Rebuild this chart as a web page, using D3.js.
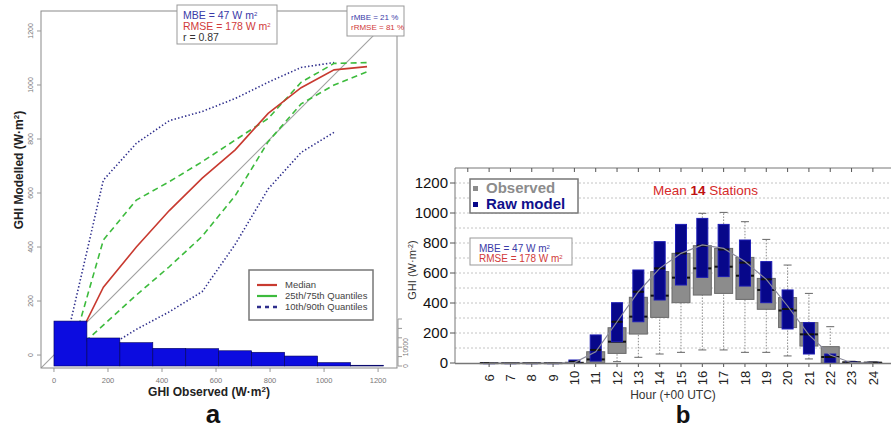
<!DOCTYPE html>
<html><head><meta charset="utf-8">
<script src="https://cdn.jsdelivr.net/npm/d3@7"></script>
<style>body{margin:0;background:#fff}svg{display:block}text{font-family:"Liberation Sans",Arial,sans-serif}</style>
</head><body><svg id="c" width="893" height="430"></svg>
<script>
// ---------- Panel a data ----------
const binCenters = [61,183,305,427,549,671,793,915,1037,1159];
const medianVals = [5,251,400,535,655,760,895,990,1056,1068];
const q75Vals = [0,426,574,642,716,796,876,1010,1080,1083];
const q25Vals = [0,111,222,327,440,590,790,930,1000,1049];
const q90Vals = [120,648,784,868,902,950,1010,1065,1083];
const q10Vals = [0,20,95,160,235,410,615,750,825];
const histEdges = [0,122,244,366,488,610,732,854,976,1098,1220];
const histCounts = [23900,14900,12400,9400,9200,8100,7300,5300,1800,400];
const axisTicksA = [0,200,400,600,800,1000,1200];
const histTicks = [0,5000,10000,15000,20000,25000];
const histTickLabels = ["0","","10000","","",""];
const legendA = ["Median","25th/75th Quantiles","10th/90th Quantiles"];

// ---------- Panel b data ----------
const hours = [6,7,8,9,10,11,12,13,14,15,16,17,18,19,20,21,22,23,24];
const obsLow  = [0,0,0,0,0,0,9,38,60,71,87,87,71,71,47,27,0,0,0];
const obsQ1   = [0,0,0,0,0,0,64,193,304,402,453,464,424,358,236,113,0,0,0];
const obsMed  = [0,0,0,0,0,24,142,309,449,569,631,642,582,487,350,191,40,3,2];
const obsQ3   = [2,2,2,2,5,75,235,438,609,731,782,764,704,564,436,269,109,8,4];
const obsHigh = [3,3,3,3,10,120,380,600,780,900,998,1004,942,824,653,464,242,12,6];
const modQ1   = [0,0,0,0,2,13,142,275,420,520,571,576,513,402,227,60,0,0,0];
const modMed  = [0,0,0,0,8,87,275,475,631,731,782,757,669,558,360,191,40,3,2];
const modQ3   = [2,2,2,2,20,187,402,620,809,924,964,924,820,676,487,269,60,8,4];
const meanLine = [0,0,0,0,3,75,275,475,631,731,787,764,676,558,380,187,53,2,0];
const yTicksB = [0,200,400,600,800,1000,1200];
const gridB = [100,200,300,400,500,600,700,800,900,1000,1100,1200];
const topTicksB = [5,6,7,8,9,10,11,12,13,14,15,16,17,18,19,20,21,22,23,24];

const svg = d3.select("#c");

// ================= PANEL A =================
const xA = d3.scaleLinear().domain([-48,1270]).range([41,397]);
const yA = d3.scaleLinear().domain([-48,1274]).range([368,11]);
const cA = d3.scaleLinear().domain([0,25000]).range([366,319]);

const defs = svg.append("defs");
defs.append("clipPath").attr("id","clipA")
  .append("rect").attr("x",41).attr("y",11).attr("width",356).attr("height",357);
defs.append("clipPath").attr("id","clipR").append("rect").attr("x",399).attr("y",0).attr("width",13).attr("height",430);

const gA = svg.append("g").attr("clip-path","url(#clipA)");
// 1:1 line
gA.append("line").attr("x1",xA(-48)).attr("y1",yA(-48)).attr("x2",xA(1300)).attr("y2",yA(1300))
  .attr("stroke","#a0a0a0").attr("stroke-width",1.1);

const lineA = (vals) => d3.line().x((d,i)=>xA(binCenters[i])).y(d=>yA(d))(vals);
const navy = "#2e2e8c", green = "#3dbb3d", red = "#c83a30";
[q90Vals,q10Vals].forEach(v => gA.append("path").attr("d",lineA(v)).attr("fill","none")
  .attr("stroke",navy).attr("stroke-width",1.6).attr("stroke-dasharray","1.4,2.2"));
[q75Vals,q25Vals].forEach(v => gA.append("path").attr("d",lineA(v)).attr("fill","none")
  .attr("stroke",green).attr("stroke-width",1.6).attr("stroke-dasharray","6,4"));
gA.append("path").attr("d",lineA(medianVals)).attr("fill","none").attr("stroke",red).attr("stroke-width",1.6);

// histogram
gA.selectAll("rect.h").data(histCounts).join("rect").attr("class","h")
  .attr("x",(d,i)=>xA(histEdges[i])).attr("width",(d,i)=>xA(histEdges[i+1])-xA(histEdges[i]))
  .attr("y",d=>cA(d)).attr("height",d=>cA(0)-cA(d))
  .attr("fill","#0c0ce0").attr("stroke","#00005a").attr("stroke-width",0.6);

// frame
svg.append("rect").attr("x",41).attr("y",11).attr("width",356).attr("height",357)
  .attr("fill","none").attr("stroke","#8a8a8a").attr("stroke-width",1);

// left axis
const lAx = svg.append("g");
axisTicksA.forEach(v=>{
  lAx.append("line").attr("x1",37).attr("x2",41).attr("y1",yA(v)).attr("y2",yA(v)).attr("stroke","#999");
  lAx.append("text").attr("transform",`translate(33,${yA(v)}) rotate(-90)`).attr("text-anchor","middle")
    .attr("font-size",7).attr("fill","#777").text(v);
});
// bottom axis
axisTicksA.forEach(v=>{
  lAx.append("line").attr("y1",368).attr("y2",372).attr("x1",xA(v)).attr("x2",xA(v)).attr("stroke","#999");
  lAx.append("text").attr("x",xA(v)).attr("y",383).attr("text-anchor","middle")
    .attr("font-size",7.5).attr("fill","#777").text(v);
});
// right histogram axis
svg.append("line").attr("x1",398).attr("x2",398).attr("y1",cA(0)).attr("y2",cA(25000)).attr("stroke","#999");
histTicks.forEach((v,i)=>{
  svg.append("line").attr("x1",398).attr("x2",402).attr("y1",cA(v)).attr("y2",cA(v)).attr("stroke","#999");
  if(histTickLabels[i]) svg.append("text").attr("transform",`translate(408,${cA(v)}) rotate(-90)`)
    .attr("text-anchor","middle").attr("font-size",6.5).attr("fill","#777").text(histTickLabels[i]);
});
// right label (partially clipped at the panel edge)
svg.append("text").attr("clip-path","url(#clipR)").attr("transform","translate(410,262) rotate(-90)").attr("text-anchor","middle")
  .attr("font-size",11).attr("font-weight","bold").attr("fill","#444")
  .html('GHI (W·m<tspan baseline-shift="super" font-size="7">-2</tspan>)');

// axis titles
svg.append("text").attr("transform","translate(23,170) rotate(-90)").attr("text-anchor","middle")
  .attr("font-size",12).attr("font-weight","bold").attr("fill","#222")
  .html('GHI Modelled (W·m<tspan baseline-shift="super" font-size="8">2</tspan>)');
svg.append("text").attr("x",209).attr("y",396).attr("text-anchor","middle")
  .attr("font-size",12).attr("font-weight","bold").attr("fill","#222")
  .html('GHI Observed (W·m<tspan baseline-shift="super" font-size="8">2</tspan>)');
svg.append("text").attr("x",213).attr("y",423).attr("text-anchor","middle")
  .attr("font-family","Liberation Serif").attr("font-size",26).attr("font-weight","bold").attr("fill","#111").text("a");

// legend a
svg.append("rect").attr("x",249).attr("y",270).attr("width",124).attr("height",50)
  .attr("fill","#fff").attr("stroke","#777").attr("stroke-width",1.5);
const lgStyles = [
  {c:red, d:null, w:2.2},
  {c:green, d:null, w:2.2},
  {c:navy, d:"4,4", w:2.5}];
legendA.forEach((t,i)=>{
  const y = 285 + i*11;
  const l = svg.append("line").attr("x1",257).attr("x2",277).attr("y1",y).attr("y2",y)
    .attr("stroke",lgStyles[i].c).attr("stroke-width",lgStyles[i].w);
  if(lgStyles[i].d) l.attr("stroke-dasharray",lgStyles[i].d);
  svg.append("text").attr("x",285).attr("y",y+3.3).attr("font-size",9.5).attr("fill","#444").text(t);
});

// annotation boxes a
svg.append("rect").attr("x",177).attr("y",5).attr("width",100).attr("height",39)
  .attr("fill","#fff").attr("stroke","#999");
svg.append("text").attr("x",183).attr("y",19).attr("font-size",10.5).attr("fill","#3a3aa8")
  .html('MBE = 47 W m<tspan baseline-shift="super" font-size="6">2</tspan>');
svg.append("text").attr("x",183).attr("y",30).attr("font-size",10.5).attr("fill","#d03a3a")
  .html('RMSE = 178 W m<tspan baseline-shift="super" font-size="6">2</tspan>');
svg.append("text").attr("x",183).attr("y",41).attr("font-size",10.5).attr("fill","#333").text("r = 0.87");
svg.append("rect").attr("x",347).attr("y",6).attr("width",57).attr("height",30)
  .attr("fill","#fff").attr("stroke","#999");
svg.append("text").attr("x",351).attr("y",20).attr("font-size",8).attr("fill","#3a3aa8").text("rMBE = 21 %");
svg.append("text").attr("x",351).attr("y",30).attr("font-size",8).attr("fill","#d03a3a").text("rRMSE = 81 %");

// ================= PANEL B =================
const xB = d3.scaleLinear().domain([4.4,24.85]).range([455,891]);
const yB = d3.scaleLinear().domain([0,1300]).range([363,168]);

// grid
gridB.forEach(v=> svg.append("line").attr("x1",455).attr("x2",891).attr("y1",yB(v)).attr("y2",yB(v))
  .attr("stroke","#c4c4c4").attr("stroke-dasharray","2,2"));
// frame
svg.append("line").attr("x1",455).attr("x2",455).attr("y1",168).attr("y2",363).attr("stroke","#777");
svg.append("line").attr("x1",455).attr("x2",891).attr("y1",168).attr("y2",168).attr("stroke","#777");
topTicksB.forEach(h=> svg.append("line").attr("x1",xB(h)).attr("x2",xB(h)).attr("y1",168).attr("y2",172).attr("stroke","#555"));

// y axis
yTicksB.forEach(v=>{
  svg.append("line").attr("x1",450).attr("x2",455).attr("y1",yB(v)).attr("y2",yB(v)).attr("stroke","#555");
  svg.append("text").attr("x",448).attr("y",yB(v)).attr("dy","0.36em").attr("text-anchor","end")
    .attr("font-size",15).attr("fill","#111").text(v);
});

const gw = 18, bw = 11, cw = 8;
// whiskers
hours.forEach((h,i)=>{
  const x = xB(h);
  svg.append("line").attr("x1",x).attr("x2",x).attr("y1",yB(obsLow[i])).attr("y2",yB(obsHigh[i]))
    .attr("stroke","#8a8a8a").attr("stroke-dasharray","1.5,1.5");
  [obsLow[i],obsHigh[i]].forEach(v=> svg.append("line").attr("x1",x-cw/2).attr("x2",x+cw/2)
    .attr("y1",yB(v)).attr("y2",yB(v)).attr("stroke","#666"));
});
// observed boxes
hours.forEach((h,i)=>{
  const x = xB(h);
  svg.append("rect").attr("x",x-gw/2).attr("width",gw).attr("y",yB(obsQ3[i])).attr("height",Math.max(1,yB(obsQ1[i])-yB(obsQ3[i])))
    .attr("fill","#8c8c8c").attr("stroke","#6a6a6a");
  svg.append("line").attr("x1",x-gw/2).attr("x2",x+gw/2).attr("y1",yB(obsMed[i])).attr("y2",yB(obsMed[i]))
    .attr("stroke","#111").attr("stroke-width",2);
});
// model boxes
hours.forEach((h,i)=>{
  const x = xB(h);
  svg.append("rect").attr("x",x-bw/2).attr("width",bw).attr("y",yB(modQ3[i])).attr("height",Math.max(1,yB(modQ1[i])-yB(modQ3[i])))
    .attr("fill","#07078a").attr("stroke","#1c1cb4");
  svg.append("line").attr("x1",x-bw/2).attr("x2",x+bw/2).attr("y1",yB(modMed[i])).attr("y2",yB(modMed[i]))
    .attr("stroke","#111").attr("stroke-width",2);
});
// mean line
svg.append("path").attr("d",d3.line().x((d,i)=>xB(hours[i])).y(d=>yB(d))(meanLine))
  .attr("fill","none").attr("stroke","#8a8a9a").attr("stroke-width",1.2);
// bottom axis line
svg.append("line").attr("x1",455).attr("x2",891).attr("y1",363.5).attr("y2",363.5).attr("stroke","#777").attr("stroke-width",1.5);
hours.forEach(h=>{
  svg.append("line").attr("x1",xB(h)).attr("x2",xB(h)).attr("y1",364).attr("y2",367).attr("stroke","#555");
  svg.append("text").attr("transform",`translate(${xB(h)},378) rotate(-90)`).attr("dy","0.36em")
    .attr("text-anchor","middle").attr("font-size",13).attr("fill","#222").text(h);
});
svg.append("text").attr("x",673).attr("y",399).attr("text-anchor","middle").attr("font-size",12).attr("fill","#333").text("Hour (+00 UTC)");
svg.append("text").attr("x",683).attr("y",423).attr("text-anchor","middle")
  .attr("font-family","Liberation Serif").attr("font-size",24).attr("font-weight","bold").attr("fill","#111").text("b");
svg.append("text").attr("transform","translate(416,270) rotate(-90)").attr("text-anchor","middle")
  .attr("font-size",11).attr("fill","#333")
  .html('GHI (W·m<tspan baseline-shift="super" font-size="7">-2</tspan>)');

// legend b
svg.append("rect").attr("x",470).attr("y",179).attr("width",108).attr("height",34)
  .attr("fill","#fff").attr("stroke","#777").attr("stroke-width",1.5);
svg.append("rect").attr("x",473).attr("y",186).attr("width",5).attr("height",5).attr("fill","#8c8c8c");
svg.append("rect").attr("x",473).attr("y",202).attr("width",5).attr("height",5).attr("fill","#07078a");
svg.append("text").attr("x",486).attr("y",193).attr("font-size",15).attr("font-weight","bold").attr("fill","#8c8c8c").text("Observed");
svg.append("text").attr("x",486).attr("y",209).attr("font-size",15).attr("font-weight","bold").attr("fill","#10108c").text("Raw model");

// MBE box b
svg.append("rect").attr("x",470).attr("y",238).attr("width",102).attr("height",27)
  .attr("fill","#fff").attr("stroke","#999");
svg.append("text").attr("x",479).attr("y",252).attr("font-size",10).attr("fill","#3a3aa8")
  .html('MBE = 47 W m<tspan baseline-shift="super" font-size="6">2</tspan>');
svg.append("text").attr("x",479).attr("y",262).attr("font-size",10).attr("fill","#d03a3a")
  .html('RMSE = 178 W m<tspan baseline-shift="super" font-size="6">2</tspan>');

// title b
svg.append("text").attr("x",653).attr("y",195).attr("font-size",13.5).attr("fill","#d62a2a")
  .html('Mean <tspan font-weight="bold" fill="#c01010">14</tspan> Stations');
</script></body></html>
